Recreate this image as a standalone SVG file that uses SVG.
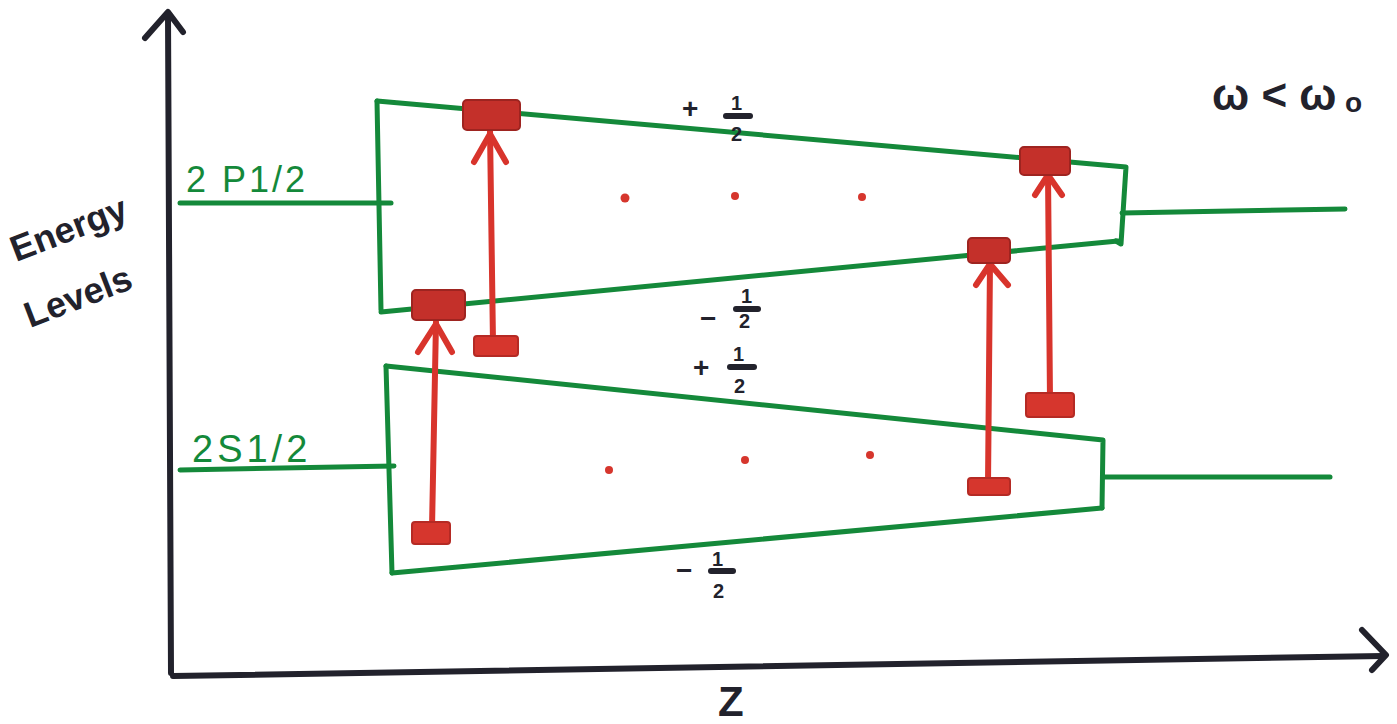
<svg xmlns="http://www.w3.org/2000/svg" width="1397" height="724" viewBox="0 0 1397 724">
  <style>
    .axis { stroke: #22222c; stroke-width: 6; fill: none; stroke-linecap: round; stroke-linejoin: round; }
    .lvl { stroke: #14893a; stroke-width: 5; fill: none; stroke-linecap: round; stroke-linejoin: round; }
    .tr { stroke: #d8342c; stroke-width: 6; fill: none; stroke-linecap: round; stroke-linejoin: round; }
    .pad { fill: #d6362d; stroke: #b52a24; stroke-width: 2; }
    .hit { fill: #c4302a; stroke: #9e2420; stroke-width: 2; }
    .dot { fill: #d6362d; }
    .ink { font-family: "Liberation Sans", Arial, sans-serif; fill: #22222c; font-weight: bold; }
    .gtxt { font-family: "Liberation Sans", Arial, sans-serif; fill: #14893a; }
  </style>

  <!-- axes -->
  <g id="axes">
    <path class="axis" d="M171,673 L168,14"/>
    <path class="axis" d="M145,38 L168,12 L183,32"/>
    <path class="axis" d="M173,676 L1383,656"/>
    <path class="axis" d="M1362,630 L1386,655 L1372,670"/>
  </g>

  <!-- upper level 2P1/2 -->
  <g id="p-level">
    <path class="lvl" d="M180,203 L391,203"/>
    <path class="lvl" d="M377,101 L381,310"/>
    <path class="lvl" d="M377,101 L1126,167 L1121,244 L1116,241"/>
    <path class="lvl" d="M381,312 L1118,241"/>
    <path class="lvl" d="M1122,213 L1345,209"/>
    <text class="gtxt" x="186" y="192" font-size="36" letter-spacing="3">2 P1/2</text>
  </g>

  <!-- lower level 2S1/2 -->
  <g id="s-level">
    <path class="lvl" d="M180,470 L394,466"/>
    <path class="lvl" d="M386,366 L392,573"/>
    <path class="lvl" d="M386,366 L1103,440 L1102,508"/>
    <path class="lvl" d="M392,573 L1102,508"/>
    <path class="lvl" d="M1103,477 L1330,477"/>
    <text class="gtxt" x="192" y="462" font-size="38" letter-spacing="4">2S1/2</text>
  </g>

  <!-- transitions -->
  <g id="connectors">
    <path class="tr" d="M493,343 L490,130"/>
    <path class="tr" d="M474,162 L490,134 L506,162"/>
    <path class="tr" d="M432,528 L436,322"/>
    <path class="tr" d="M418,352 L436,324 L452,352"/>
    <path class="tr" d="M988,484 L990,262"/>
    <path class="tr" d="M976,285 L990,264 L1008,285"/>
    <path class="tr" d="M1050,400 L1048,173"/>
    <path class="tr" d="M1035,195 L1048,175 L1062,195"/>
  </g>

  <g id="pads">
    <rect class="pad" x="474" y="336" width="44" height="20" rx="3"/>
    <rect class="pad" x="412" y="522" width="38" height="22" rx="3"/>
    <rect class="pad" x="968" y="478" width="42" height="17" rx="3"/>
    <rect class="pad" x="1026" y="393" width="48" height="24" rx="3"/>
    <rect class="hit" x="463" y="100" width="57" height="30" rx="4"/>
    <rect class="hit" x="412" y="290" width="53" height="30" rx="4"/>
    <rect class="hit" x="968" y="238" width="42" height="25" rx="4"/>
    <rect class="hit" x="1020" y="147" width="50" height="28" rx="4"/>
  </g>

  <g id="dots">
    <circle class="dot" cx="625" cy="198" r="4.5"/>
    <circle class="dot" cx="735" cy="196" r="4"/>
    <circle class="dot" cx="862" cy="197" r="4"/>
    <circle class="dot" cx="609" cy="470" r="4"/>
    <circle class="dot" cx="745" cy="460" r="4"/>
    <circle class="dot" cx="870" cy="455" r="4"/>
  </g>

  <!-- spin labels -->
  <g id="labels">
    <text class="ink" x="682" y="118" font-size="28">+</text>
    <text class="ink" x="731" y="110" font-size="20">1</text>
    <path class="axis" d="M726,116 L750,116" stroke-width="5"/>
    <text class="ink" x="731" y="141" font-size="20">2</text>

    <text class="ink" x="700" y="328" font-size="28">−</text>
    <text class="ink" x="741" y="303" font-size="20">1</text>
    <path class="axis" d="M736,309 L758,309" stroke-width="5"/>
    <text class="ink" x="739" y="328" font-size="20">2</text>

    <text class="ink" x="693" y="377" font-size="28">+</text>
    <text class="ink" x="733" y="361" font-size="20">1</text>
    <path class="axis" d="M730,367 L754,367" stroke-width="5"/>
    <text class="ink" x="734" y="393" font-size="20">2</text>

    <text class="ink" x="676" y="580" font-size="28">−</text>
    <text class="ink" x="712" y="566" font-size="20">1</text>
    <path class="axis" d="M711,571 L733,571" stroke-width="5"/>
    <text class="ink" x="713" y="598" font-size="20">2</text>

    <text class="ink" x="1212" y="110" font-size="44">ω &lt; ω</text>
    <text class="ink" x="1345" y="112" font-size="28">o</text>

    <text class="ink" x="718" y="716" font-size="42">Z</text>

    <text class="ink" font-size="36" transform="translate(16,262) rotate(-21)">Energy</text>
    <text class="ink" font-size="36" transform="translate(30,328) rotate(-21)">Levels</text>
  </g>
</svg>
